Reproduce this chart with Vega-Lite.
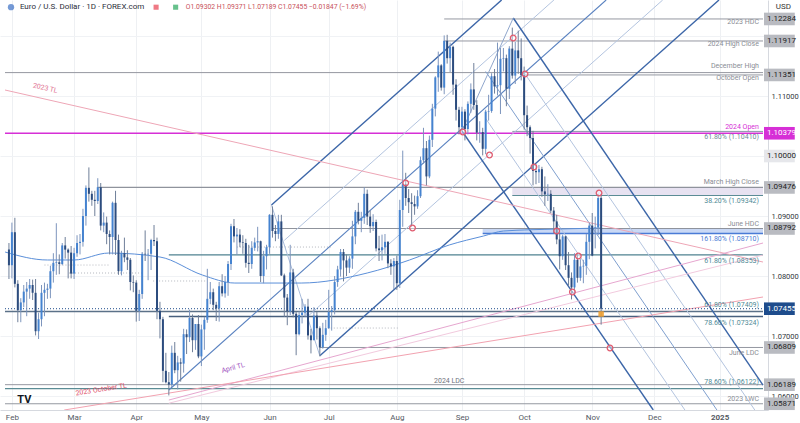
{
"$schema":"https://vega.github.io/schema/vega-lite/v6.json",
"width":768,"height":410,"autosize":{"type":"none"},"padding":{"left":0,"top":0,"right":32,"bottom":13},
"background":"#ffffff",
"config":{"view":{"stroke":null},"font":"Roboto"},
"datasets":{
"candles":[
{"t":-1,"o":1.0844,"h":1.0855,"l":1.0795,"c":1.0818},{"t":0,"o":1.0818,"h":1.0889,"l":1.0796,"c":1.0873},{"t":1,"o":1.0873,"h":1.0897,"l":1.0781,"c":1.0787},{"t":2,"o":1.0787,"h":1.0793,"l":1.0723,"c":1.0743},{"t":3,"o":1.0743,"h":1.0763,"l":1.0723,"c":1.0756},{"t":4,"o":1.0756,"h":1.0785,"l":1.0748,"c":1.0774},{"t":5,"o":1.0774,"h":1.079,"l":1.0733,"c":1.0779},{"t":6,"o":1.0779,"h":1.0795,"l":1.0762,"c":1.0785},{"t":7,"o":1.0785,"h":1.0794,"l":1.076,"c":1.0772},{"t":8,"o":1.0772,"h":1.0795,"l":1.0701,"c":1.0708},{"t":9,"o":1.0708,"h":1.0739,"l":1.0695,"c":1.0728},{"t":10,"o":1.0728,"h":1.0785,"l":1.0716,"c":1.0772},{"t":11,"o":1.0772,"h":1.0789,"l":1.0733,"c":1.0777},{"t":12,"o":1.0777,"h":1.0787,"l":1.0762,"c":1.0779},{"t":13,"o":1.0779,"h":1.0817,"l":1.0763,"c":1.0808},{"t":14,"o":1.0808,"h":1.0838,"l":1.0789,"c":1.0822},{"t":15,"o":1.0822,"h":1.0888,"l":1.0802,"c":1.0823},{"t":16,"o":1.0823,"h":1.0836,"l":1.0803,"c":1.082},{"t":17,"o":1.082,"h":1.0855,"l":1.0818,"c":1.0851},{"t":18,"o":1.0851,"h":1.0865,"l":1.0829,"c":1.0844},{"t":19,"o":1.0844,"h":1.0846,"l":1.0796,"c":1.0839},{"t":20,"o":1.0839,"h":1.085,"l":1.0796,"c":1.0804},
{"t":21,"o":1.0804,"h":1.0847,"l":1.0795,"c":1.0838},{"t":22,"o":1.0838,"h":1.0868,"l":1.0832,"c":1.0855},{"t":23,"o":1.0855,"h":1.087,"l":1.0836,"c":1.0857},{"t":24,"o":1.0857,"h":1.0912,"l":1.0849,"c":1.09},{"t":25,"o":1.09,"h":1.0951,"l":1.0884,"c":1.0947},{"t":26,"o":1.0947,"h":1.0981,"l":1.0924,"c":1.0937},{"t":27,"o":1.0937,"h":1.0942,"l":1.0917,"c":1.0927},{"t":28,"o":1.0927,"h":1.0942,"l":1.09,"c":1.0925},{"t":29,"o":1.0925,"h":1.0963,"l":1.092,"c":1.0948},{"t":30,"o":1.0948,"h":1.0955,"l":1.0876,"c":1.0884},{"t":31,"o":1.0884,"h":1.0906,"l":1.0873,"c":1.0889},{"t":32,"o":1.0889,"h":1.0899,"l":1.0853,"c":1.087},{"t":33,"o":1.087,"h":1.0876,"l":1.0836,"c":1.0865},{"t":34,"o":1.0865,"h":1.0924,"l":1.0836,"c":1.0922},{"t":35,"o":1.0922,"h":1.0942,"l":1.0835,"c":1.086},{"t":36,"o":1.086,"h":1.0869,"l":1.0802,"c":1.0808},{"t":37,"o":1.0808,"h":1.0842,"l":1.0801,"c":1.0838},{"t":38,"o":1.0838,"h":1.0864,"l":1.0823,"c":1.0831},{"t":39,"o":1.0831,"h":1.0843,"l":1.081,"c":1.0827},{"t":40,"o":1.0827,"h":1.083,"l":1.0776,"c":1.079},{"t":41,"o":1.079,"h":1.0801,"l":1.0773,"c":1.0789},
{"t":42,"o":1.0789,"h":1.0793,"l":1.0724,"c":1.0742},{"t":43,"o":1.0742,"h":1.0777,"l":1.0725,"c":1.077},{"t":44,"o":1.077,"h":1.084,"l":1.0762,"c":1.0837},{"t":45,"o":1.0837,"h":1.0876,"l":1.0825,"c":1.0836},{"t":46,"o":1.0836,"h":1.0845,"l":1.0793,"c":1.0837},{"t":47,"o":1.0837,"h":1.0862,"l":1.081,"c":1.086},{"t":48,"o":1.086,"h":1.0885,"l":1.085,"c":1.0858},{"t":49,"o":1.0858,"h":1.0864,"l":1.0728,"c":1.0742},{"t":50,"o":1.0742,"h":1.0757,"l":1.0696,"c":1.0728},{"t":51,"o":1.0728,"h":1.0732,"l":1.0623,"c":1.0642},{"t":52,"o":1.0642,"h":1.0672,"l":1.0621,"c":1.0623},{"t":53,"o":1.0623,"h":1.064,"l":1.0601,"c":1.0619},{"t":54,"o":1.0619,"h":1.0684,"l":1.0615,"c":1.0672},{"t":55,"o":1.0672,"h":1.069,"l":1.0638,"c":1.0643},{"t":56,"o":1.0643,"h":1.0667,"l":1.0611,"c":1.0656},{"t":57,"o":1.0656,"h":1.0663,"l":1.0624,"c":1.0654},{"t":58,"o":1.0654,"h":1.0712,"l":1.0639,"c":1.0703},{"t":59,"o":1.0703,"h":1.0711,"l":1.067,"c":1.0698},{"t":60,"o":1.0698,"h":1.0744,"l":1.069,"c":1.073},{"t":61,"o":1.073,"h":1.0736,"l":1.0673,"c":1.0693},{"t":62,"o":1.0693,"h":1.072,"l":1.0677,"c":1.072},{"t":63,"o":1.072,"h":1.0735,"l":1.0663,"c":1.0666},
{"t":64,"o":1.0666,"h":1.0719,"l":1.065,"c":1.0711},{"t":65,"o":1.0711,"h":1.0732,"l":1.0677,"c":1.0727},{"t":66,"o":1.0727,"h":1.0812,"l":1.0722,"c":1.0762},{"t":67,"o":1.0762,"h":1.079,"l":1.0753,"c":1.0773},{"t":68,"o":1.0773,"h":1.0779,"l":1.0743,"c":1.0752},{"t":69,"o":1.0752,"h":1.0757,"l":1.0725,"c":1.0746},{"t":70,"o":1.0746,"h":1.079,"l":1.0724,"c":1.0783},{"t":71,"o":1.0783,"h":1.0803,"l":1.0766,"c":1.0771},{"t":72,"o":1.0771,"h":1.08,"l":1.0764,"c":1.079},{"t":73,"o":1.079,"h":1.0825,"l":1.0767,"c":1.082},{"t":74,"o":1.082,"h":1.0887,"l":1.081,"c":1.0883},{"t":75,"o":1.0883,"h":1.0895,"l":1.0856,"c":1.0866},{"t":76,"o":1.0866,"h":1.088,"l":1.0835,"c":1.0869},{"t":77,"o":1.0869,"h":1.0878,"l":1.0848,"c":1.0856},{"t":78,"o":1.0856,"h":1.0868,"l":1.0837,"c":1.0855},{"t":79,"o":1.0855,"h":1.0862,"l":1.0814,"c":1.0822},{"t":80,"o":1.0822,"h":1.0852,"l":1.0805,"c":1.082},{"t":81,"o":1.082,"h":1.0858,"l":1.0812,"c":1.0847},{"t":82,"o":1.0847,"h":1.0864,"l":1.0842,"c":1.0856},{"t":83,"o":1.0856,"h":1.0882,"l":1.0841,"c":1.0858},{"t":84,"o":1.0858,"h":1.0859,"l":1.079,"c":1.08},{"t":85,"o":1.08,"h":1.0842,"l":1.0788,"c":1.0833},{"t":86,"o":1.0833,"h":1.0852,"l":1.0811,"c":1.0848},
{"t":87,"o":1.0848,"h":1.0903,"l":1.0837,"c":1.0902},{"t":88,"o":1.0902,"h":1.0916,"l":1.0864,"c":1.0875},{"t":89,"o":1.0875,"h":1.0885,"l":1.0858,"c":1.087},{"t":90,"o":1.087,"h":1.0902,"l":1.0862,"c":1.0891},{"t":91,"o":1.0891,"h":1.0902,"l":1.08,"c":1.0801},{"t":92,"o":1.0801,"h":1.0804,"l":1.0732,"c":1.0764},{"t":93,"o":1.0764,"h":1.077,"l":1.0718,"c":1.0741},{"t":94,"o":1.0741,"h":1.0852,"l":1.0735,"c":1.0806},{"t":95,"o":1.0806,"h":1.0812,"l":1.0731,"c":1.0737},{"t":96,"o":1.0737,"h":1.074,"l":1.0668,"c":1.0703},{"t":97,"o":1.0703,"h":1.0741,"l":1.0701,"c":1.0735},{"t":98,"o":1.0735,"h":1.0762,"l":1.0721,"c":1.0739},{"t":99,"o":1.0739,"h":1.0753,"l":1.0732,"c":1.0749},{"t":100,"o":1.0749,"h":1.0762,"l":1.0694,"c":1.0701},{"t":101,"o":1.0701,"h":1.0712,"l":1.0671,"c":1.0693},{"t":102,"o":1.0693,"h":1.0748,"l":1.0693,"c":1.0734},{"t":103,"o":1.0734,"h":1.074,"l":1.0694,"c":1.0713},{"t":104,"o":1.0713,"h":1.0716,"l":1.0666,"c":1.0681},{"t":105,"o":1.0681,"h":1.0722,"l":1.0679,"c":1.0702},{"t":106,"o":1.0702,"h":1.0727,"l":1.0692,"c":1.0713},
{"t":107,"o":1.0713,"h":1.0777,"l":1.0712,"c":1.074},{"t":108,"o":1.074,"h":1.075,"l":1.0709,"c":1.0743},{"t":109,"o":1.0743,"h":1.08,"l":1.0736,"c":1.079},{"t":110,"o":1.079,"h":1.0817,"l":1.0782,"c":1.0811},{"t":111,"o":1.0811,"h":1.0845,"l":1.0799,"c":1.084},{"t":112,"o":1.084,"h":1.0845,"l":1.0791,"c":1.0826},{"t":113,"o":1.0826,"h":1.0836,"l":1.08,"c":1.0814},{"t":114,"o":1.0814,"h":1.0833,"l":1.0805,"c":1.0829},{"t":115,"o":1.0829,"h":1.0892,"l":1.0812,"c":1.0866},{"t":116,"o":1.0866,"h":1.091,"l":1.0853,"c":1.0907},{"t":117,"o":1.0907,"h":1.0922,"l":1.0886,"c":1.0892},{"t":118,"o":1.0892,"h":1.0907,"l":1.0873,"c":1.0897},{"t":119,"o":1.0897,"h":1.0948,"l":1.0887,"c":1.0937},{"t":120,"o":1.0937,"h":1.0944,"l":1.0885,"c":1.0899},{"t":121,"o":1.0899,"h":1.0909,"l":1.0872,"c":1.0883},{"t":122,"o":1.0883,"h":1.0903,"l":1.0875,"c":1.089},{"t":123,"o":1.089,"h":1.0894,"l":1.0841,"c":1.0846},{"t":124,"o":1.0846,"h":1.0867,"l":1.0825,"c":1.0843},{"t":125,"o":1.0843,"h":1.0869,"l":1.0826,"c":1.0848},{"t":126,"o":1.0848,"h":1.087,"l":1.0837,"c":1.0857},{"t":127,"o":1.0857,"h":1.0858,"l":1.0813,"c":1.0821},{"t":128,"o":1.0821,"h":1.0828,"l":1.0802,"c":1.0816},{"t":129,"o":1.0816,"h":1.083,"l":1.0778,"c":1.0825},
{"t":130,"o":1.0825,"h":1.0834,"l":1.0777,"c":1.0788},{"t":131,"o":1.0788,"h":1.0927,"l":1.078,"c":1.091},{"t":132,"o":1.091,"h":1.1009,"l":1.0882,"c":1.0953},{"t":133,"o":1.0953,"h":1.0972,"l":1.0917,"c":1.093},{"t":134,"o":1.093,"h":1.0945,"l":1.0905,"c":1.0923},{"t":135,"o":1.0923,"h":1.0938,"l":1.0882,"c":1.092},{"t":136,"o":1.092,"h":1.0934,"l":1.0902,"c":1.0916},{"t":137,"o":1.0916,"h":1.0943,"l":1.0912,"c":1.0933},{"t":138,"o":1.0933,"h":1.0999,"l":1.093,"c":1.0993},{"t":139,"o":1.0993,"h":1.1047,"l":1.0987,"c":1.1013},{"t":140,"o":1.1013,"h":1.1025,"l":1.0951,"c":1.0966},{"t":141,"o":1.0966,"h":1.1034,"l":1.0963,"c":1.1027},{"t":142,"o":1.1027,"h":1.1087,"l":1.1015,"c":1.1079},{"t":143,"o":1.1079,"h":1.1133,"l":1.1066,"c":1.1131},{"t":144,"o":1.1131,"h":1.1174,"l":1.1107,"c":1.1151},{"t":145,"o":1.1151,"h":1.1153,"l":1.1109,"c":1.1114},{"t":146,"o":1.1114,"h":1.1201,"l":1.1103,"c":1.1192},{"t":147,"o":1.1192,"h":1.1202,"l":1.1154,"c":1.1163},{"t":148,"o":1.1163,"h":1.1189,"l":1.114,"c":1.1182},{"t":149,"o":1.1182,"h":1.1184,"l":1.1102,"c":1.1119},{"t":150,"o":1.1119,"h":1.1128,"l":1.1059,"c":1.1077},{"t":151,"o":1.1077,"h":1.1082,"l":1.1036,"c":1.1048},
{"t":152,"o":1.1048,"h":1.1082,"l":1.1042,"c":1.1074},{"t":153,"o":1.1074,"h":1.1078,"l":1.1026,"c":1.1045},{"t":154,"o":1.1045,"h":1.1091,"l":1.1036,"c":1.1087},{"t":155,"o":1.1087,"h":1.1121,"l":1.1072,"c":1.1111},{"t":156,"o":1.1111,"h":1.1155,"l":1.1077,"c":1.1085},{"t":157,"o":1.1085,"h":1.1093,"l":1.1026,"c":1.1039},{"t":158,"o":1.1039,"h":1.1058,"l":1.1022,"c":1.104},{"t":159,"o":1.104,"h":1.1047,"l":1.1001,"c":1.1012},{"t":160,"o":1.1012,"h":1.1077,"l":1.1003,"c":1.1074},{"t":161,"o":1.1074,"h":1.1102,"l":1.1059,"c":1.1075},{"t":162,"o":1.1075,"h":1.1138,"l":1.1072,"c":1.1133},{"t":163,"o":1.1133,"h":1.1145,"l":1.1104,"c":1.1116},{"t":164,"o":1.1116,"h":1.1189,"l":1.1101,"c":1.1118},{"t":165,"o":1.1118,"h":1.118,"l":1.107,"c":1.1162},{"t":166,"o":1.1162,"h":1.118,"l":1.1141,"c":1.1163},{"t":167,"o":1.1163,"h":1.1169,"l":1.1083,"c":1.1112},{"t":168,"o":1.1112,"h":1.1183,"l":1.1095,"c":1.1179},{"t":169,"o":1.1179,"h":1.1214,"l":1.1129,"c":1.1134},{"t":170,"o":1.1134,"h":1.119,"l":1.112,"c":1.1176},{"t":171,"o":1.1176,"h":1.1209,"l":1.1137,"c":1.1163},{"t":172,"o":1.1163,"h":1.1196,"l":1.1126,"c":1.1135},
{"t":173,"o":1.1135,"h":1.1149,"l":1.1044,"c":1.1068},{"t":174,"o":1.1068,"h":1.1084,"l":1.1033,"c":1.1048},{"t":175,"o":1.1048,"h":1.1051,"l":1.1004,"c":1.103},{"t":176,"o":1.103,"h":1.1042,"l":1.0951,"c":1.0975},{"t":177,"o":1.0975,"h":1.0986,"l":1.0953,"c":1.0973},{"t":178,"o":1.0973,"h":1.0985,"l":1.0955,"c":1.0978},{"t":179,"o":1.0978,"h":1.0982,"l":1.0932,"c":1.0941},{"t":180,"o":1.0941,"h":1.0966,"l":1.0917,"c":1.0936},{"t":181,"o":1.0936,"h":1.0953,"l":1.0925,"c":1.0937},{"t":182,"o":1.0937,"h":1.0943,"l":1.0905,"c":1.0909},{"t":183,"o":1.0909,"h":1.0915,"l":1.0871,"c":1.0891},{"t":184,"o":1.0891,"h":1.0902,"l":1.0853,"c":1.0861},{"t":185,"o":1.0861,"h":1.0872,"l":1.0811,"c":1.0833},{"t":186,"o":1.0833,"h":1.0869,"l":1.0827,"c":1.0866},{"t":187,"o":1.0866,"h":1.0867,"l":1.081,"c":1.0818},{"t":188,"o":1.0818,"h":1.084,"l":1.0784,"c":1.0797},{"t":189,"o":1.0797,"h":1.0806,"l":1.0761,"c":1.0781},{"t":190,"o":1.0781,"h":1.0838,"l":1.0769,"c":1.0827},{"t":191,"o":1.0827,"h":1.0838,"l":1.0789,"c":1.0797},{"t":192,"o":1.0797,"h":1.0828,"l":1.0792,"c":1.0816},{"t":193,"o":1.0816,"h":1.0827,"l":1.0788,"c":1.0817},{"t":194,"o":1.0817,"h":1.087,"l":1.0802,"c":1.0857},{"t":195,"o":1.0857,"h":1.0889,"l":1.0828,"c":1.0884},
{"t":196,"o":1.0884,"h":1.0905,"l":1.0833,"c":1.0834},{"t":197,"o":1.088,"h":1.0899,"l":1.0846,"c":1.0881},{"t":198,"o":1.0881,"h":1.0937,"l":1.0868,"c":1.093},{"t":199,"o":1.09302,"h":1.09371,"l":1.07189,"c":1.07455}
],
"hl":[
{"t":146,"t2":253.67,"p":1.12284,"col":"#9598a1","w":1},
{"t":146,"t2":253.67,"p":1.11917,"col":"#9598a1","w":1},
{"t":-2.33,"t2":253.67,"p":1.1139,"col":"#9598a1","w":1},
{"t":173,"t2":253.67,"p":1.11351,"col":"#9598a1","w":1},
{"t":-2.33,"t2":253.67,"p":1.10379,"col":"#d62fd6","w":1.6},
{"t":169,"t2":253.67,"p":1.1041,"col":"#8a9aa6","w":1},
{"t":29,"t2":253.67,"p":1.09476,"col":"#8f939c","w":1.2},
{"t":169,"t2":253.67,"p":1.09342,"col":"#5b8c95","w":1.2},
{"t":88,"t2":253.67,"p":1.08792,"col":"#8f939c","w":1.2},
{"t":159,"t2":253.67,"p":1.0871,"col":"#4a7bd6","w":1.5},
{"t":53,"t2":253.67,"p":1.08353,"col":"#4f8290","w":1.2},
{"t":-2.33,"t2":253.67,"p":1.07409,"col":"#5b7188","w":1.5},
{"t":53,"t2":253.67,"p":1.07324,"col":"#48607e","w":1.5},
{"t":104,"t2":253.67,"p":1.06809,"col":"#9598a1","w":1},
{"t":-2.33,"t2":253.67,"p":1.06189,"col":"#9598a1","w":1},
{"t":-2.33,"t2":253.67,"p":1.06122,"col":"#5b8c95","w":1.2},
{"t":-2.33,"t2":253.67,"p":1.05871,"col":"#9598a1","w":1}
],
"dots":[
{"t":11,"t2":32.7,"p":1.08183},{"t":19.3,"t2":44.3,"p":1.0805},{"t":47.7,"t2":66,"p":1.07917},{"t":76,"t2":107.7,"p":1.08483},{"t":107.7,"t2":131,"p":1.07133}
],
"bands":[
{"t":169,"t2":253.67,"p":1.09342,"p2":1.09476,"col":"#e7e2f1"},
{"t":159,"t2":253.67,"p":1.0871,"p2":1.08792,"col":"#c9d8f5"}
],
"dl":[
{"t":87.67,"p":1.09183,"t2":165.4,"p2":1.126,"col":"#3c66a8","w":1.4},
{"t":104,"p":1.0667,"t2":238.8,"p2":1.126,"col":"#3c66a8","w":1.4},
{"t":53,"p":1.061,"t2":200.7,"p2":1.126,"col":"#5a82c0","w":1.1},
{"t":92,"p":1.08594,"t2":183.05,"p2":1.126,"col":"#b3c4df","w":1},
{"t":100,"p":1.0733,"t2":219.8,"p2":1.126,"col":"#b3c4df","w":1},
{"t":87.67,"p":1.09183,"t2":104,"p2":1.0667,"col":"#a9bcdb","w":1},
{"t":169.33,"p":1.123,"t2":253.67,"p2":1.06183,"col":"#3c66a8","w":1.4},
{"t":152,"p":1.10417,"t2":216.6,"p2":1.05767,"col":"#3c66a8","w":1.4},
{"t":160,"p":1.11409,"t2":238.1,"p2":1.05767,"col":"#7f9fce","w":1},
{"t":173.3,"p":1.11367,"t2":250.9,"p2":1.05767,"col":"#b3c4df","w":1},
{"t":160,"p":1.10626,"t2":227.3,"p2":1.05767,"col":"#b3c4df","w":1},
{"t":152,"p":1.10417,"t2":169.33,"p2":1.123,"col":"#8fa6cc","w":1},
{"t":-2.33,"p":1.111,"t2":253.67,"p2":1.08233,"col":"#eea6b6","w":1},
{"t":53,"p":1.05933,"t2":253.67,"p2":1.0855,"col":"#e6a6cf","w":1},
{"t":53,"p":1.0588,"t2":253.67,"p2":1.0835,"col":"#f2cade","w":1},
{"t":17.67,"p":1.05767,"t2":253.67,"p2":1.0765,"col":"#f2a2b0","w":1}
],
"ma":[
{"t":-2.3,"p":1.084},{"t":12,"p":1.08267},{"t":21,"p":1.08267},{"t":32.7,"p":1.08383},{"t":50,"p":1.08317},{"t":64.3,"p":1.08017},{"t":75.3,"p":1.07883},{"t":97.7,"p":1.07883},{"t":120,"p":1.0805},{"t":134.3,"p":1.08267},{"t":147.7,"p":1.08517},{"t":159.3,"p":1.08667},{"t":166,"p":1.0875},{"t":184.3,"p":1.08783},{"t":199,"p":1.088}
],
"circles":[
{"t":152.3,"p":1.104},{"t":161.3,"p":1.10017},{"t":169.3,"p":1.11967},{"t":173.3,"p":1.11367},{"t":176.3,"p":1.09817},{"t":184,"p":1.0875},{"t":191.3,"p":1.08333},{"t":189.3,"p":1.07733},{"t":198.3,"p":1.09383},{"t":202,"p":1.068},{"t":133,"p":1.0955},{"t":135.3,"p":1.088}
],
"lbl":[
{"t":252.3,"p":1.12233,"txt":"2023 HDC","col":"#8a8d95"},
{"t":252.3,"p":1.11867,"txt":"2024 High Close","col":"#8a8d95"},
{"t":252.3,"p":1.115,"txt":"December High","col":"#8a8d95"},
{"t":252.3,"p":1.113,"txt":"October Open","col":"#8a8d95"},
{"t":252.3,"p":1.10483,"txt":"2024 Open","col":"#d62fd6"},
{"t":252.3,"p":1.10317,"txt":"61.80% (1.10410)","col":"#6f8a96"},
{"t":252.3,"p":1.09567,"txt":"March High Close","col":"#8a8d95"},
{"t":252.3,"p":1.0925,"txt":"38.20% (1.09342)","col":"#4f8a96"},
{"t":252.3,"p":1.08867,"txt":"June HDC","col":"#8a8d95"},
{"t":252.3,"p":1.08617,"txt":"161.80% (1.08710)","col":"#4a7bd6"},
{"t":252.3,"p":1.0825,"txt":"61.80% (1.08353)","col":"#4f8a96"},
{"t":252.3,"p":1.07517,"txt":"61.80% (1.07409)","col":"#4f8a96"},
{"t":252.3,"p":1.07217,"txt":"78.60% (1.07324)","col":"#4f8a96"},
{"t":252.3,"p":1.06717,"txt":"June LDC","col":"#8a8d95"},
{"t":252.3,"p":1.06233,"txt":"78.60% (1.06122)","col":"#4f8a96"},
{"t":252.3,"p":1.0595,"txt":"2023 LWC","col":"#8a8d95"}
],
"tags":[
{"p":1.12284,"txt":"1.12284","bg":"#b9bbc1","fg":"#1e1e1e"},
{"p":1.11917,"txt":"1.11917","bg":"#b9bbc1","fg":"#1e1e1e"},
{"p":1.11351,"txt":"1.11351","bg":"#b9bbc1","fg":"#1e1e1e"},
{"p":1.10379,"txt":"1.10379","bg":"#d62fd6","fg":"#ffffff"},
{"p":1.1,"txt":"1.10000","bg":"#e6e7eb","fg":"#1e1e1e"},
{"p":1.09476,"txt":"1.09476","bg":"#b9bbc1","fg":"#1e1e1e"},
{"p":1.08792,"txt":"1.08792","bg":"#b9bbc1","fg":"#1e1e1e"},
{"p":1.07455,"txt":"1.07455","bg":"#1e4c8c","fg":"#ffffff"},
{"p":1.06809,"txt":"1.06809","bg":"#b9bbc1","fg":"#1e1e1e"},
{"p":1.06189,"txt":"1.06189","bg":"#b9bbc1","fg":"#1e1e1e"},
{"p":1.05871,"txt":"1.05871","bg":"#b9bbc1","fg":"#1e1e1e"}
]
},
"layer":[
{"data":{"name":"bands"},"mark":{"type":"rect"},
 "encoding":{"x":{"field":"t","type":"quantitative","title":null,"scale":{"domain":[-2.33,253.67],"nice":false,"zero":false},
   "axis":{"values":[0,21,42,64,87,107,130,152,173,196,217,239],"labelExpr":"['Feb','Mar','Apr','May','Jun','Jul','Aug','Sep','Oct','Nov','Dec','2025'][indexof([0,21,42,64,87,107,130,152,173,196,217,239], datum.value)]","title":null,"grid":true,"gridColor":"#eef0f3","ticks":false,"domainColor":"#d6d9df","labelColor":"#555a63","labelFontSize":8,"labelPadding":3,"labelFlush":false,"labelOverlap":false,"labelFontWeight":{"condition":{"test":"datum.value == 239","value":"bold"},"value":"normal"}}},
  "x2":{"field":"t2","title":null},
  "y":{"field":"p","type":"quantitative","title":null,"scale":{"domain":[1.05767,1.126],"nice":false,"zero":false},
   "axis":{"orient":"right","values":[1.06,1.065,1.07,1.075,1.08,1.085,1.09,1.095,1.1,1.105,1.11,1.115,1.12,1.125],"labelExpr":"indexof(['1.06000','1.06500','1.07000','1.08000','1.08500','1.09000','1.11000'], format(datum.value, '.5f')) >= 0 ? format(datum.value, '.5f') : ''","title":null,"grid":true,"gridColor":"#f0f2f5","ticks":false,"domainColor":"#d6d9df","labelColor":"#333840","labelFontSize":7.5,"labelPadding":3,"labelAlign":"left","labelOverlap":false}},
  "y2":{"field":"p2","title":null},
  "color":{"field":"col","type":"nominal","scale":null}}},
{"data":{"name":"dots"},"mark":{"type":"rule","strokeDash":[1,2],"color":"#b4b7be","strokeWidth":1},
 "encoding":{"x":{"field":"t","type":"quantitative","title":null},"x2":{"field":"t2","title":null},"y":{"field":"p","type":"quantitative","title":null}}},
{"data":{"name":"hl"},"mark":{"type":"rule"},
 "encoding":{"x":{"field":"t","type":"quantitative","title":null},"x2":{"field":"t2","title":null},"y":{"field":"p","type":"quantitative","title":null},
  "color":{"field":"col","type":"nominal","scale":null},"strokeWidth":{"field":"w","type":"quantitative","scale":null}}},
{"data":{"name":"dl"},"mark":{"type":"rule","clip":true},
 "encoding":{"x":{"field":"t","type":"quantitative","title":null},"x2":{"field":"t2","title":null},"y":{"field":"p","type":"quantitative","title":null},"y2":{"field":"p2","title":null},
  "color":{"field":"col","type":"nominal","scale":null},"strokeWidth":{"field":"w","type":"quantitative","scale":null}}},
{"data":{"name":"ma"},"mark":{"type":"line","color":"#5b8fd9","strokeWidth":1,"interpolate":"monotone"},
 "encoding":{"x":{"field":"t","type":"quantitative","title":null},"y":{"field":"p","type":"quantitative","title":null}}},
{"data":{"values":[{"t":-2.33,"t2":253.67,"p":1.07455}]},"mark":{"type":"rule","color":"#1e4c8c","strokeWidth":1,"strokeDash":[1,2]},
 "encoding":{"x":{"field":"t","type":"quantitative","title":null},"x2":{"field":"t2","title":null},"y":{"field":"p","type":"quantitative","title":null}}},
{"data":{"name":"candles"},"mark":{"type":"rule","strokeWidth":1},
 "encoding":{"x":{"field":"t","type":"quantitative","title":null},"y":{"field":"l","type":"quantitative","title":null},"y2":{"field":"h","title":null},
  "color":{"condition":{"test":"datum.c >= datum.o","value":"#7d95bd"},"value":"#6f7f99"}}},
{"data":{"name":"candles"},"mark":{"type":"bar","size":2},
 "encoding":{"x":{"field":"t","type":"quantitative","title":null},"y":{"field":"o","type":"quantitative","title":null},"y2":{"field":"c","title":null},
  "color":{"condition":{"test":"datum.c >= datum.o","value":"#4583d0"},"value":"#2c4c7e"}}},
{"data":{"name":"circles"},"mark":{"type":"point","shape":"circle","size":32,"filled":false,"stroke":"#e05a6e","strokeWidth":1.3,"fill":"#ffffff","fillOpacity":0.4},
 "encoding":{"x":{"field":"t","type":"quantitative","title":null},"y":{"field":"p","type":"quantitative","title":null}}},
{"data":{"values":[{"t":199,"p":1.07367}]},"mark":{"type":"square","size":30,"color":"#f0a030","opacity":0.9},
 "encoding":{"x":{"field":"t","type":"quantitative","title":null},"y":{"field":"p","type":"quantitative","title":null}}},
{"data":{"name":"lbl"},"mark":{"type":"text","align":"right","baseline":"middle","fontSize":7},
 "encoding":{"x":{"field":"t","type":"quantitative","title":null},"y":{"field":"p","type":"quantitative","title":null},"text":{"field":"txt"},"color":{"field":"col","type":"nominal","scale":null}}},
{"data":{"values":[{"t":147.7,"p":1.0625,"txt":"2024 LDC"}]},"mark":{"type":"text","align":"center","baseline":"middle","fontSize":7,"color":"#6f737c"},
 "encoding":{"x":{"field":"t","type":"quantitative","title":null},"y":{"field":"p","type":"quantitative","title":null},"text":{"field":"txt"}}},
{"data":{"values":[{"t":11,"p":1.1108,"txt":"2023 TL","ang":13,"col":"#e07090"},{"t":75,"p":1.0642,"txt":"April TL","ang":345,"col":"#a050c0"},{"t":30.3,"p":1.0606,"txt":"2023 October TL","ang":351,"col":"#e0506a"}]},
 "mark":{"type":"text","align":"center","baseline":"bottom","fontSize":7},
 "encoding":{"x":{"field":"t","type":"quantitative","title":null},"y":{"field":"p","type":"quantitative","title":null},"text":{"field":"txt"},"angle":{"field":"ang","type":"quantitative","scale":null},"color":{"field":"col","type":"nominal","scale":null}}},
{"data":{"name":"tags"},"mark":{"type":"rect"},
 "encoding":{"x":{"datum":254,"type":"quantitative","title":null},"x2":{"datum":264.4},"y":{"field":"lo","type":"quantitative","title":null},"y2":{"field":"hi","title":null},"color":{"field":"bg","type":"nominal","scale":null}},
 "transform":[{"calculate":"datum.p + 0.00105","as":"hi"},{"calculate":"datum.p - 0.00105","as":"lo"}]},
{"data":{"name":"tags"},"mark":{"type":"text","align":"left","baseline":"middle","fontSize":8},
 "encoding":{"x":{"datum":255,"type":"quantitative","title":null},"y":{"field":"p","type":"quantitative","title":null},"text":{"field":"txt"},"color":{"field":"fg","type":"nominal","scale":null}}},
{"data":{"values":[{"t":258,"p":1.1249,"txt":"USD"}]},"mark":{"type":"text","align":"left","baseline":"middle","fontSize":8,"color":"#333"},
 "encoding":{"x":{"field":"t","type":"quantitative","title":null},"y":{"field":"p","type":"quantitative","title":null},"text":{"field":"txt"}}},
{"data":{"values":[{"t":-0.3,"p":1.1248}]},"mark":{"type":"point","shape":"circle","filled":true,"size":40,"color":"#3a6fc4"},
 "encoding":{"x":{"field":"t","type":"quantitative","title":null},"y":{"field":"p","type":"quantitative","title":null}}},
{"data":{"values":[{"t":48.7,"p":1.1248,"col":"#e84050"},{"t":55.3,"p":1.1248,"col":"#26a65b"}]},"mark":{"type":"point","shape":"square","filled":true,"size":26},
 "encoding":{"x":{"field":"t","type":"quantitative","title":null},"y":{"field":"p","type":"quantitative","title":null},"color":{"field":"col","type":"nominal","scale":null}}},
{"data":{"values":[{"t":2.7,"p":1.1248,"txt":"Euro / U.S. Dollar · 1D · FOREX.com","col":"#2a2e39","fs":8},{"t":58.7,"p":1.1248,"txt":"O1.09302 H1.09371 L1.07189 C1.07455 −0.01847 (−1.69%)","col":"#c8505a","fs":6.8}]},
 "mark":{"type":"text","align":"left","baseline":"middle"},
 "encoding":{"x":{"field":"t","type":"quantitative","title":null},"y":{"field":"p","type":"quantitative","title":null},"text":{"field":"txt"},"color":{"field":"col","type":"nominal","scale":null},"size":{"field":"fs","type":"quantitative","scale":null}}},
{"data":{"values":[{"t":1.8,"p":1.0594,"txt":"TV"}]},"mark":{"type":"text","align":"left","baseline":"middle","fontSize":11,"fontWeight":"bold","color":"#131722"},
 "encoding":{"x":{"field":"t","type":"quantitative","title":null},"y":{"field":"p","type":"quantitative","title":null},"text":{"field":"txt"}}}
]
}
